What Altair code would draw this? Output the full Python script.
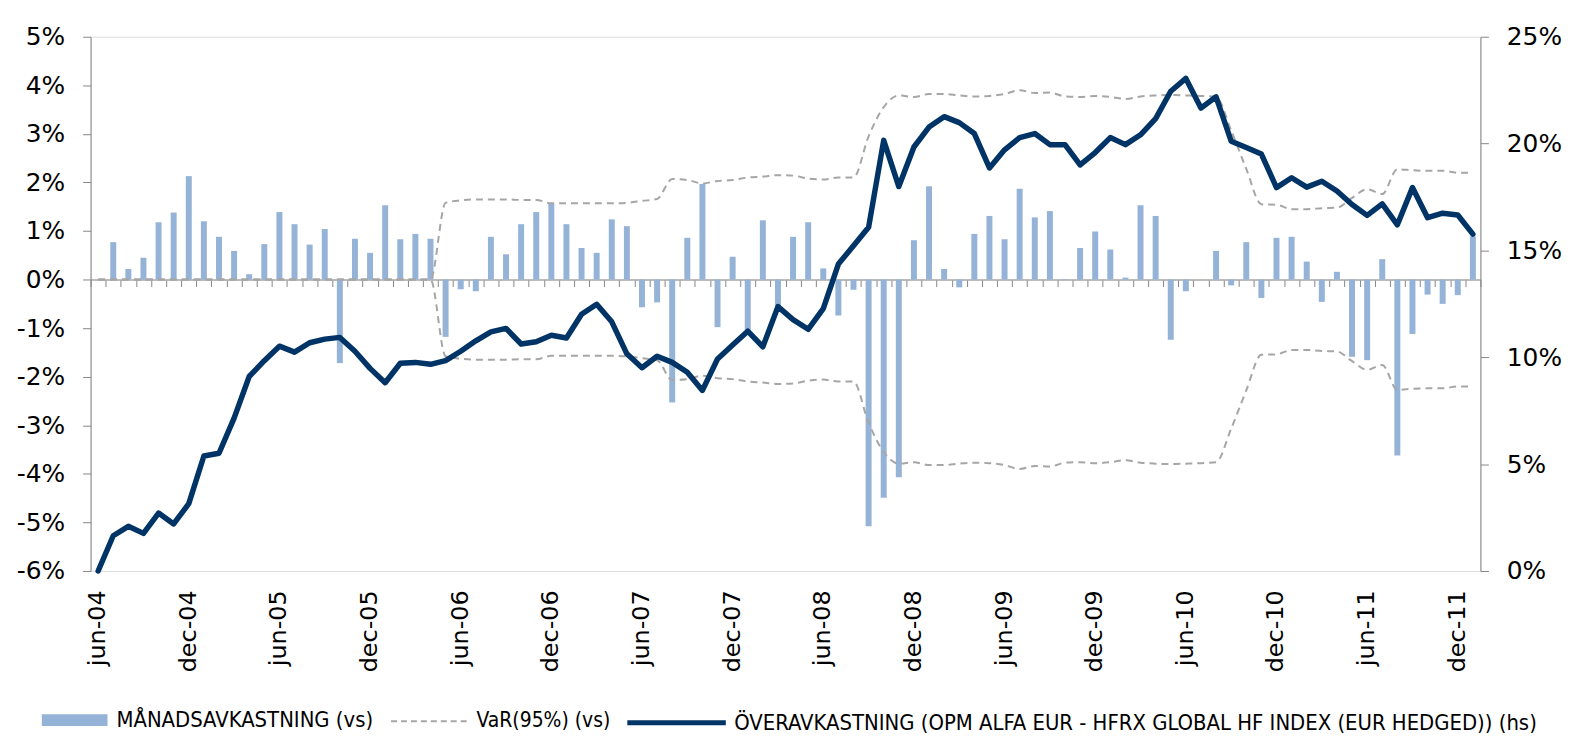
import altair as alt
import pandas as pd

# ---------------- data ----------------
MONTH_NAMES = ["jan", "feb", "mar", "apr", "maj", "jun", "jul", "aug", "sep", "okt", "nov", "dec"]
MONTHS = [f"{MONTH_NAMES[(5 + k) % 12]}-{4 + (5 + k) // 12:02d}" for k in range(92)]  # jun-04 .. jan-12

# monthly return (left axis, %)
MONTHLY = [
    0.00, 0.77, 0.22, 0.45, 1.18, 1.38, 2.13, 1.20, 0.88, 0.59, 0.11, 0.73,
    1.39, 1.14, 0.72, 1.04, -1.72, 0.84, 0.55, 1.53, 0.83, 0.94, 0.84,
    -1.18, -0.20, -0.24, 0.88, 0.52, 1.14, 1.39, 1.57, 1.14, 0.65, 0.55, 1.24,
    1.10, -0.57, -0.47, -2.53, 0.86, 1.97, -0.98, 0.47, -1.05, 1.22, -0.55,
    0.88, 1.18, 0.23, -0.74, -0.21, -5.08, -4.49, -4.07, 0.81, 1.92, 0.22,
    -0.16, 0.94, 1.31, 0.83, 1.87, 1.28, 1.41, 0.01, 0.65, 0.99, 0.62, 0.04,
    1.53, 1.31, -1.24, -0.24, 0.00, 0.59, -0.12, 0.77, -0.38, 0.86, 0.88, 0.37,
    -0.46, 0.16, -1.59, -1.66, 0.42, -3.62, -1.12, -0.31, -0.50, -0.32, 0.89,
]

# cumulative excess return (right axis, %)
EXCESS = [
    0.00, 1.65, 2.09, 1.76, 2.71, 2.20, 3.15, 5.38, 5.51, 7.15, 9.10, 9.84,
    10.52, 10.24, 10.68, 10.85, 10.93, 10.28, 9.48, 8.81, 9.72, 9.76, 9.67,
    9.84, 10.28, 10.77, 11.19, 11.35, 10.62, 10.73, 11.03, 10.90, 12.01, 12.48, 11.66,
    10.16, 9.51, 10.05, 9.76, 9.30, 8.45, 9.92, 10.57, 11.22, 10.49, 12.37,
    11.76, 11.31, 12.28, 14.36, 15.22, 16.08, 20.15, 17.99, 19.84, 20.77, 21.26,
    20.98, 20.47, 18.86, 19.71, 20.28, 20.47, 19.95, 19.95, 19.00, 19.58, 20.28, 19.95,
    20.41, 21.17, 22.45, 23.05, 21.66, 22.19, 20.11, 19.82, 19.51, 17.94, 18.40, 17.96,
    18.24, 17.78, 17.15, 16.64, 17.18, 16.20, 17.94, 16.53, 16.74, 16.66, 15.76,
]

# VaR(95%) band (left axis, %)
VAR_UPPER = [
    0, 0, 0, 0, 0, 0, 0, 0, 0, 0, 0, 0,
    0, 0, 0, 0, 0, 0, 0, 0, 0, 0, 0,
    1.58, 1.63, 1.65, 1.65, 1.65, 1.64, 1.64, 1.57, 1.57, 1.57, 1.57, 1.57,
    1.58, 1.62, 1.66, 2.07, 2.05, 1.98, 2.03, 2.05, 2.10, 2.12, 2.15,
    2.14, 2.08, 2.06, 2.10, 2.10, 2.95, 3.55, 3.79, 3.76, 3.82, 3.82,
    3.79, 3.77, 3.78, 3.82, 3.90, 3.84, 3.85, 3.77, 3.76, 3.78, 3.76, 3.72,
    3.77, 3.79, 3.80, 3.79, 3.78, 3.76, 3.07, 2.28, 1.55, 1.54, 1.45, 1.45,
    1.47, 1.48, 1.68, 1.86, 1.76, 2.27, 2.25, 2.24, 2.24, 2.20, 2.20,
]
VAR_LOWER = [
    0, 0, 0, 0, 0, 0, 0, 0, 0, 0, 0, 0,
    0, 0, 0, 0, 0, 0, 0, 0, 0, 0, 0,
    -1.58, -1.63, -1.65, -1.65, -1.65, -1.64, -1.64, -1.57, -1.57, -1.57, -1.57, -1.57,
    -1.58, -1.62, -1.66, -2.07, -2.05, -1.98, -2.03, -2.05, -2.10, -2.12, -2.15,
    -2.14, -2.08, -2.06, -2.10, -2.10, -2.95, -3.55, -3.79, -3.76, -3.82, -3.82,
    -3.79, -3.77, -3.78, -3.82, -3.90, -3.84, -3.85, -3.77, -3.76, -3.78, -3.76, -3.72,
    -3.77, -3.79, -3.80, -3.79, -3.78, -3.76, -3.07, -2.28, -1.55, -1.54, -1.45, -1.45,
    -1.47, -1.48, -1.68, -1.86, -1.76, -2.27, -2.25, -2.24, -2.24, -2.20, -2.20,
]

LEFT_TICKS = [-6, -5, -4, -3, -2, -1, 0, 1, 2, 3, 4, 5]
RIGHT_TICKS = [0, 5, 10, 15, 20, 25]

LBL_BAR = "MÅNADSAVKASTNING (vs)"
LBL_VAR = "VaR(95%) (vs)"
LBL_LINE = "ÖVERAVKASTNING (OPM ALFA EUR - HFRX GLOBAL HF INDEX (EUR HEDGED)) (hs)"

# ---------------- styling ----------------
FONT = "DejaVu Sans"
LEG_FONT = "DejaVu Sans Condensed, Liberation Sans Narrow, DejaVu Sans"
BAR_COLOR = "#95B3D7"
LINE_COLOR = "#003366"
VAR_COLOR = "#A6A6A6"
AXIS_GREY = "#868686"

W, H = 1397, 537
ZERO_OFFSET = -(H * 6 / 11)  # move the tick axis up to the 0% line
LEG_CY = 687                 # legend centre line, relative to plot top

df = pd.DataFrame({
    "month": MONTHS,
    "monthly": MONTHLY,
    "excess": EXCESS,
    "var_hi": VAR_UPPER,
    "var_lo": VAR_LOWER,
})

xscale = alt.Scale(type="band", domain=MONTHS, paddingInner=0, paddingOuter=0)
yleft = alt.Scale(domain=[-6, 5], nice=False, zero=False)
yright = alt.Scale(domain=[0, 25], nice=False, zero=False)

base = alt.Chart(df)

bars = base.transform_calculate(s=f"'{LBL_BAR}'").mark_bar(size=6).encode(
    x=alt.X("month:N", sort=MONTHS, scale=xscale,
            axis=alt.Axis(title=None, labels=False, ticks=True, tickBand="extent",
                          tickSize=7, tickColor=AXIS_GREY, tickWidth=1, orient="bottom",
                          domainColor="#A6A6A6", domainWidth=1.5, offset=ZERO_OFFSET,
                          grid=False)),
    y=alt.Y("monthly:Q", scale=yleft,
            axis=alt.Axis(title=None, values=LEFT_TICKS, labelExpr="datum.value + '%'",
                          labelFont=FONT, labelFontSize=25, labelColor="black",
                          tickSize=8, tickColor=AXIS_GREY, domainColor=AXIS_GREY,
                          labelPadding=18, grid=False, orient="left")),
    color=alt.Color("s:N", title=None,
                    scale=alt.Scale(domain=[LBL_BAR], range=[BAR_COLOR]),
                    legend=alt.Legend(orient="none", legendX=-49, legendY=LEG_CY - 33,
                                      symbolType="M-1,-0.18H1V0.18H-1Z", symbolSize=4356,
                                      symbolStrokeWidth=0, labelFont=LEG_FONT,
                                      labelFontSize=22, labelColor="black", labelLimit=1200,
                                      labelOffset=9, padding=0)),
)

var_lines = base.transform_fold(["var_hi", "var_lo"], as_=["side", "v"]).transform_calculate(
    s=f"'{LBL_VAR}'"
).mark_line(strokeDash=[7, 5], strokeWidth=2, interpolate="monotone").encode(
    x=alt.X("month:N", sort=MONTHS, scale=xscale, axis=None),
    y=alt.Y("v:Q", scale=yleft, axis=None),
    detail="side:N",
    color=alt.Color("s:N", title=None,
                    scale=alt.Scale(domain=[LBL_VAR], range=[VAR_COLOR]),
                    legend=alt.Legend(orient="none", legendX=301, legendY=LEG_CY - 38,
                                      symbolType="stroke", symbolSize=5776,
                                      symbolDash=[6, 4], symbolStrokeWidth=2,
                                      labelFont=LEG_FONT, labelFontSize=21, labelLimit=1200,
                                      labelColor="black", labelOffset=9, padding=0)),
)

line = base.transform_calculate(s=f"'{LBL_LINE}'").mark_line(
    strokeWidth=5.5, strokeJoin="round", strokeCap="round"
).encode(
    x=alt.X("month:N", sort=MONTHS, scale=xscale,
            axis=alt.Axis(title=None, orient="bottom", labelAngle=270, labelAlign="right",
                          labelBaseline="middle", labelFont=FONT, labelFontSize=24,
                          labelColor="black", labelPadding=19, labelOverlap=False,
                          ticks=False, domain=False, grid=False,
                          labelExpr="(indexof(datum.label,'jun')==0 || indexof(datum.label,'dec')==0) ? datum.label : ''")),
    y=alt.Y("excess:Q", scale=yright,
            axis=alt.Axis(title=None, values=RIGHT_TICKS, labelExpr="datum.value + '%'",
                          labelFont=FONT, labelFontSize=25, labelColor="black",
                          tickSize=8, tickColor=AXIS_GREY, domainColor=AXIS_GREY,
                          labelPadding=18, grid=False, orient="right")),
    color=alt.Color("s:N", title=None,
                    scale=alt.Scale(domain=[LBL_LINE], range=[LINE_COLOR]),
                    legend=alt.Legend(orient="none", legendX=537, legendY=LEG_CY - 49.5,
                                      symbolType="stroke", symbolSize=9801,
                                      symbolStrokeWidth=5, labelFont=LEG_FONT,
                                      labelFontSize=22, labelColor="black", labelLimit=1200,
                                      labelOffset=6, padding=0)),
)

chart = alt.layer(bars, var_lines, line).resolve_scale(
    y="independent", color="independent"
).resolve_axis(
    x="independent"
).properties(
    width=W, height=H,
    autosize=alt.AutoSizeParams(type="none"),
    padding={"left": 83, "top": 27, "right": 85, "bottom": 164},
).configure_view(stroke=None).configure(background="white")

chart.save("out.html", embed_options={"renderer": "svg", "actions": False})
